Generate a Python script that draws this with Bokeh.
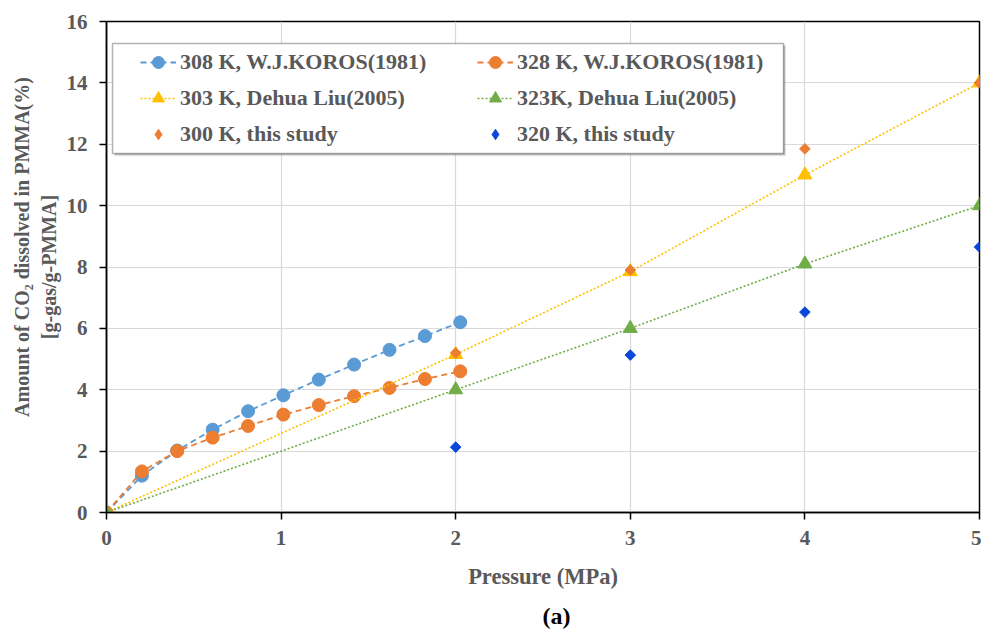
import numpy as np
from bokeh.plotting import figure
from bokeh.models import (Range1d, FixedTicker, Legend, LegendItem, BoxAnnotation, Title)
from bokeh.embed import file_html
from bokeh.resources import INLINE

# ---------------- data ----------------
koros_p = [0, 0.203, 0.405, 0.608, 0.811, 1.013, 1.216, 1.418, 1.621, 1.824, 2.026]
koros_308 = [0, 1.2, 2.02, 2.7, 3.3, 3.82, 4.33, 4.82, 5.3, 5.75, 6.2]
koros_328 = [0, 1.34, 2.0, 2.44, 2.82, 3.19, 3.5, 3.79, 4.06, 4.35, 4.6]
liu_p = [0, 2, 3, 4, 5]
liu_303 = [0, 5.15, 7.85, 11.0, 14.0]
liu_323 = [0, 4.0, 6.0, 8.1, 10.0]
study_p = [2, 3, 4, 5]
study_300 = [5.2, 7.9, 11.85, 14.0]
study_320 = [2.13, 5.13, 6.53, 8.65]

x_ticks = [0, 1, 2, 3, 4, 5]
y_ticks = [0, 2, 4, 6, 8, 10, 12, 14, 16]

labels = ["308 K, W.J.KOROS(1981)", "328 K, W.J.KOROS(1981)",
          "303 K, Dehua Liu(2005)", "323K, Dehua Liu(2005)",
          "300 K, this study", "320 K, this study"]

FONT = "Liberation Serif"
GRAY = "#595959"
FRAME_L, FRAME_T, FRAME_B = 106, 21, 512

p = figure(width=981, height=639, output_backend="svg", toolbar_location=None,
           x_range=Range1d(0, 5), y_range=Range1d(0, 16),
           min_border_left=FRAME_L, min_border_right=2, min_border_top=FRAME_T,
           min_border_bottom=639 - FRAME_B)
p.background_fill_color = "white"
p.border_fill_color = "white"
p.outline_line_color = "black"
p.outline_line_width = 1.5

for ax in (p.xaxis[0], p.yaxis[0]):
    ax.axis_line_color = "black"
    ax.axis_line_width = 1.5
    ax.major_tick_line_color = "black"
    ax.major_tick_line_width = 1.5
    ax.major_tick_in = 0
    ax.major_tick_out = 7
    ax.minor_tick_line_color = None
    ax.major_label_text_font = FONT
    ax.major_label_text_font_style = "bold"
    ax.major_label_text_font_size = "21px"
    ax.major_label_text_color = GRAY
    ax.axis_label_text_font = FONT
    ax.axis_label_text_font_style = "bold"
    ax.axis_label_text_color = GRAY

p.xaxis.axis_label_text_font_size = "22.5px"
p.yaxis.axis_label_text_font_size = "20px"

p.xaxis.ticker = FixedTicker(ticks=x_ticks)
p.yaxis.ticker = FixedTicker(ticks=y_ticks)
p.xgrid.ticker = FixedTicker(ticks=x_ticks)
p.ygrid.ticker = FixedTicker(ticks=y_ticks)
p.xgrid.grid_line_color = "#d9d9d9"
p.ygrid.grid_line_color = "#d9d9d9"
p.xgrid.grid_line_width = 1.2
p.ygrid.grid_line_width = 1.2

p.xaxis.axis_label = "Pressure (MPa)"
# leading no-break spaces nudge the first (longer) line upward, as in the original
p.yaxis.axis_label = "\u00a0" * 8 + "Amount of CO\u2082 dissolved in PMMA(%)\n[g-gas/g-PMMA]"
p.xaxis.major_label_standoff = 11
p.yaxis.major_label_standoff = 12
p.xaxis.axis_label_standoff = 16
p.yaxis.axis_label_standoff = 4

BLUE, ORANGE, YELLOW, GREEN, DBLUE = "#5B9BD5", "#ED7D31", "#FFC000", "#70AD47", "#0B47DB"

r1l = p.line(koros_p, koros_308, line_color=BLUE, line_width=1.8, line_dash="6 4")
r1s = p.scatter(koros_p, koros_308, marker="circle", size=13, fill_color=BLUE, line_color=BLUE)
r2l = p.line(koros_p, koros_328, line_color=ORANGE, line_width=1.8, line_dash="6 4")
r2s = p.scatter(koros_p, koros_328, marker="circle", size=13, fill_color=ORANGE, line_color=ORANGE)
r3l = p.line(liu_p, liu_303, line_color=YELLOW, line_width=1.6, line_dash="2 2")
r3s = p.scatter(liu_p, liu_303, marker="triangle", size=14, fill_color=YELLOW, line_color=YELLOW)
r4l = p.line(liu_p, liu_323, line_color=GREEN, line_width=1.6, line_dash="2 2")
r4s = p.scatter(liu_p, liu_323, marker="triangle", size=14, fill_color=GREEN, line_color=GREEN)
# diamond proxies (hidden beneath the rotated squares) give the legend its diamond glyph
r5k = p.scatter(study_p, study_300, marker="diamond", size=8, fill_color=ORANGE, line_color=ORANGE)
r6k = p.scatter(study_p, study_320, marker="diamond", size=8, fill_color=DBLUE, line_color=DBLUE)
r5 = p.scatter(study_p, study_300, marker="square", angle=np.pi / 4, size=7.5,
               fill_color=ORANGE, line_color=ORANGE)
r6 = p.scatter(study_p, study_320, marker="square", angle=np.pi / 4, size=7.5,
               fill_color=DBLUE, line_color=DBLUE)

# legend frame (screen px, relative to the frame bottom-left)
shadow = BoxAnnotation(left=112 - FRAME_L + 2, right=783 - FRAME_L + 2,
                       top=FRAME_B - 43 - 2, bottom=FRAME_B - 153 - 2,
                       left_units="screen", right_units="screen",
                       top_units="screen", bottom_units="screen",
                       fill_color="#7f7f7f", fill_alpha=0.5, line_alpha=0)
box = BoxAnnotation(left=112 - FRAME_L, right=783 - FRAME_L,
                    top=FRAME_B - 43, bottom=FRAME_B - 153,
                    left_units="screen", right_units="screen",
                    top_units="screen", bottom_units="screen",
                    fill_color="white", fill_alpha=1, line_color="black", line_width=1.5)
p.add_layout(shadow)
p.add_layout(box)

col_x = [140, 477]
row_y = [62.3, 98.3, 134.0]
entries = [
    (labels[0], [r1l, r1s], 0, 0, 30),
    (labels[1], [r2l, r2s], 1, 0, 30),
    (labels[2], [r3l, r3s], 0, 1, 30),
    (labels[3], [r4l, r4s], 1, 1, 30),
    (labels[4], [r5k], 0, 2, 26),
    (labels[5], [r6k], 1, 2, 26),
]
for lab, rends, c, r, gh in entries:
    leg = Legend(items=[LegendItem(label=lab, renderers=rends)],
                 location=(col_x[c] - FRAME_L, FRAME_B - (row_y[r] + gh / 2)),
                 glyph_width=36, glyph_height=gh, label_height=gh, label_standoff=4,
                 padding=0, margin=0, spacing=0,
                 border_line_alpha=0, background_fill_alpha=0,
                 label_text_font=FONT, label_text_font_style="bold",
                 label_text_font_size="22px", label_text_color=GRAY)
    p.add_layout(leg)

cap = Title(text="(a)", align="left", offset=558 - FRAME_L - 16, standoff=19,
            text_font=FONT, text_font_style="bold", text_font_size="24px",
            text_color="black")
p.add_layout(cap, "below")

open("out.html", "w").write(file_html(p, INLINE))
